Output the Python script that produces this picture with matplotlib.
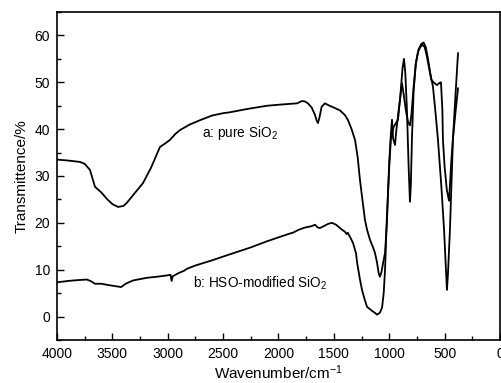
import matplotlib
matplotlib.use("Agg")
import matplotlib.pyplot as plt
from matplotlib.ticker import MultipleLocator

plt.rcParams['font.family'] = ['Liberation Sans', 'DejaVu Sans']
plt.rcParams['mathtext.fontset'] = 'custom'
plt.rcParams['mathtext.rm'] = 'Liberation Sans'
plt.rcParams['mathtext.it'] = 'Liberation Sans:italic'

# curve a: pure SiO2
wn_a = [4000, 3900, 3792, 3750, 3702, 3657, 3600, 3549, 3500, 3449, 3400, 3368,
        3296, 3223, 3150, 3070, 3020, 2980, 2930, 2889, 2800, 2709, 2600, 2500,
        2438, 2350, 2257, 2100, 1950, 1833, 1788, 1760, 1734, 1700, 1670, 1655,
        1643, 1630, 1610, 1580, 1540, 1500, 1445, 1400, 1372, 1340, 1309, 1285,
        1264, 1240, 1219, 1200, 1174, 1150, 1129, 1110, 1095, 1084, 1070, 1055,
        1038, 1020, 1000, 985, 975, 965, 948, 935, 910, 885, 870, 850, 830, 813,
        800, 780, 760, 740, 720, 700, 680, 660, 640, 620, 600, 580, 569, 550,
        533, 520, 515, 500, 480, 460, 440, 425, 400, 379]
tr_a = [33.5, 33.3, 33.0, 32.6, 31.3, 27.7, 26.5, 25.1, 24.0, 23.4, 23.6, 24.3,
        26.4, 28.5, 31.8, 36.2, 37.0, 37.7, 39.0, 39.8, 41.0, 41.9, 42.9, 43.4,
        43.6, 44.0, 44.4, 45.0, 45.3, 45.5, 46.0, 45.9, 45.5, 44.6, 43.0, 41.8,
        41.3, 42.5, 44.8, 45.5, 45.0, 44.6, 44.0, 43.0, 41.9, 40.0, 37.7, 34.0,
        29.1, 24.5, 20.6, 18.5, 16.4, 15.0, 13.6, 11.5, 9.2, 8.5, 9.5, 11.5,
        13.6, 20.6, 33.0, 39.0, 42.0, 38.0, 36.6, 40.0, 45.0, 49.8, 47.5, 44.0,
        41.5, 40.8, 43.0, 49.0, 54.0, 56.5, 57.5, 58.0, 57.5, 55.5, 53.0, 50.5,
        50.0, 49.6, 49.4, 49.8, 50.0, 44.0, 37.6, 32.0, 27.0, 24.7, 33.0, 38.0,
        44.0, 48.7]

# curve b: HSO-modified SiO2
wn_b = [4000, 3900, 3800, 3729, 3690, 3657, 3600, 3530, 3449, 3420, 3380, 3314,
        3250, 3180, 3097, 3000, 2975, 2965, 2955, 2900, 2850, 2826, 2750, 2600,
        2450, 2257, 2100, 2000, 1950, 1900, 1869, 1820, 1760, 1700, 1670, 1645,
        1625, 1590, 1550, 1517, 1480, 1430, 1400, 1385, 1375, 1350, 1327, 1300,
        1290, 1265, 1246, 1220, 1201, 1160, 1130, 1110, 1085, 1065, 1050, 1038,
        1020, 1000, 985, 960, 921, 900, 880, 867, 855, 840, 825, 813, 805, 795,
        780, 760, 735, 710, 690, 670, 650, 630, 605, 580, 560, 530, 505, 490,
        479, 470, 452, 425, 400, 379]
tr_b = [7.3, 7.6, 7.8, 7.9, 7.5, 7.0, 7.0, 6.7, 6.4, 6.3, 7.0, 7.7,
        8.0, 8.3, 8.5, 8.8, 8.9, 7.6, 8.6, 9.3, 9.8, 10.2, 10.9, 12.0,
        13.2, 14.7, 16.1, 16.9, 17.3, 17.7, 17.9, 18.5, 19.0, 19.3, 19.6, 19.0,
        18.9, 19.3, 19.8, 20.0, 19.6, 18.6, 18.1, 17.6, 17.9, 16.8, 15.7, 13.5,
        11.5, 8.0, 5.7, 3.5, 2.1, 1.3, 0.8, 0.4, 0.8, 1.9, 5.0, 10.0,
        22.0, 32.0, 38.0, 40.5, 42.0, 47.0, 53.0, 55.0, 52.0, 44.0, 32.0, 24.5,
        28.0, 38.0, 48.0, 54.0, 57.0, 58.2, 58.5, 57.5, 55.0, 52.0, 49.0, 43.0,
        37.7, 28.0, 18.5, 11.0, 5.7, 9.0, 18.5, 37.7, 48.0, 56.2]

fig = plt.figure(figsize=(5.02, 3.83), dpi=100)
ax = fig.add_axes([0.1135, 0.1123, 0.8825, 0.8564])

ax.plot(wn_a, tr_a, color='black', lw=1.3)
ax.plot(wn_b, tr_b, color='black', lw=1.3)

ax.text(2690, 39.1, 'a: pure SiO$_2$', fontsize=9.8, va='center', ha='left')
ax.text(2772, 7.0, 'b: HSO-modified SiO$_2$', fontsize=9.8, va='center', ha='left')

ax.set_xlim(4000, 0)
ax.set_ylim(-5, 65)
ax.xaxis.set_major_locator(MultipleLocator(500))
ax.xaxis.set_minor_locator(MultipleLocator(250))
ax.yaxis.set_major_locator(MultipleLocator(10))
ax.yaxis.set_minor_locator(MultipleLocator(5))
ax.tick_params(which='both', direction='in', labelsize=10, width=1)
ax.tick_params(which='major', length=5, pad=5)
ax.tick_params(which='minor', length=3)
for s in ax.spines.values():
    s.set_linewidth(1.2)

ax.set_xlabel('Wavenumber/cm$^{-1}$', fontsize=11, labelpad=2)
ax.set_ylabel('Transmittence/%', fontsize=11, labelpad=4)

fig.savefig('out.png', dpi=100)
